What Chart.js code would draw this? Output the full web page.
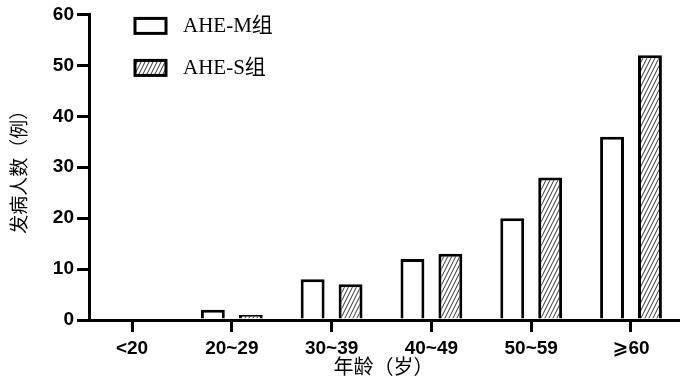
<!DOCTYPE html>
<html>
<head>
<meta charset="utf-8">
<script src="https://cdn.jsdelivr.net/npm/chart.js@4/dist/chart.umd.min.js"></script>
<style>
  html, body { margin: 0; padding: 0; background: #fff; }
</style>
</head>
<body>
<canvas id="grafico" width="700" height="386"></canvas>
<script>
// dados
const categorias = ["<20", "20~29", "30~39", "40~49", "50~59", "⩾60"]
const valoresM = [0, 2, 8, 12, 20, 36]
const valoresS = [0, 1, 7, 13, 28, 52]
const ticksY = [0, 10, 20, 30, 40, 50, 60]
const nomesSeries = ["AHE-M组", "AHE-S组"]

const canvas = document.getElementById("grafico")
const ctx = canvas.getContext("2d")

// hachura diagonal das barras AHE-S
function criarHachura() {
  const c = document.createElement("canvas")
  c.width = 4
  c.height = 8
  const g = c.getContext("2d")
  g.fillStyle = "#fff"
  g.fillRect(0, 0, 4, 8)
  g.strokeStyle = "#333"
  g.lineWidth = 1
  g.beginPath()
  for (const dx of [-4, 0, 4]) {
    g.moveTo(dx, 8)
    g.lineTo(dx + 4, 0)
  }
  g.stroke()
  return ctx.createPattern(c, "repeat")
}

const hachura = criarHachura()

const legendaCustom = {
  id: "legendaCustom",
  afterDraw(chart) {
    const { ctx, chartArea } = chart
    chart.data.datasets.forEach((ds, i) => {
      const x = chartArea.left + 46
      const y = chartArea.top + 4 + i * 42
      ctx.save()
      ctx.fillStyle = ds.backgroundColor
      ctx.fillRect(x, y, 31, 15)
      ctx.lineWidth = 3
      ctx.strokeStyle = "#000"
      ctx.strokeRect(x, y, 31, 15)
      ctx.fillStyle = "#000"
      ctx.font = "21px 'Liberation Serif', 'Noto Sans CJK SC'"
      ctx.textBaseline = "middle"
      ctx.fillText(ds.label, x + 48, y + 8)
      ctx.restore()
    })
  },
}

const fonteTicks = { family: "'Liberation Sans', Arial, 'DejaVu Sans'", size: 19, weight: "bold" }

new Chart(ctx, {
  type: "bar",
  data: {
    datasets: [
      {
        label: nomesSeries[0],
        data: valoresM.map((v, i) => ({ x: i, y: v })),
        backgroundColor: "#fff",
        borderColor: "#000",
        borderWidth: 3,
      },
      {
        label: nomesSeries[1],
        data: valoresS.map((v, i) => ({ x: i, y: v })),
        backgroundColor: hachura,
        borderColor: "#000",
        borderWidth: 3,
      },
    ],
  },
  options: {
    responsive: false,
    animation: false,
    categoryPercentage: 0.76,
    barPercentage: 0.63,
    layout: { padding: { top: 13, right: 22, left: 0, bottom: 0 } },
    plugins: {
      legend: { display: false },
      tooltip: { enabled: false },
    },
    scales: {
      x: {
        type: "linear",
        offset: false,
        min: -0.431,
        max: 5.471,
        afterBuildTicks: (scale) => {
          scale.ticks = categorias.map((_, i) => ({ value: i }))
        },
        afterFit: (scale) => {
          scale.height = 66
        },
        ticks: {
          color: "#000",
          font: fonteTicks,
          padding: 5,
          maxRotation: 0,
          autoSkip: false,
          callback: (v) => categorias[v],
        },
        grid: { offset: false, drawOnChartArea: false, color: "#000", lineWidth: 3, tickLength: 12 },
        border: { color: "#000", width: 3 },
        title: {
          display: true,
          text: "年龄（岁）",
          color: "#000",
          font: { family: "'Noto Sans CJK SC'", size: 20 },
          padding: { top: 0, bottom: 8 },
        },
      },
      y: {
        min: 0,
        max: 60,
        afterBuildTicks: (scale) => {
          scale.ticks = ticksY.map((v) => ({ value: v }))
        },
        afterFit: (scale) => {
          scale.width = 89
        },
        ticks: { color: "#000", font: fonteTicks, padding: 3 },
        grid: { drawOnChartArea: false, color: "#000", lineWidth: 3, tickLength: 12 },
        border: { color: "#000", width: 3 },
        title: {
          display: true,
          text: "发病人数（例）",
          color: "#000",
          font: { family: "'Noto Sans CJK SC'", size: 19 },
          padding: { top: 7, bottom: 6 },
        },
      },
    },
  },
  plugins: [legendaCustom],
})
</script>
</body>
</html>
